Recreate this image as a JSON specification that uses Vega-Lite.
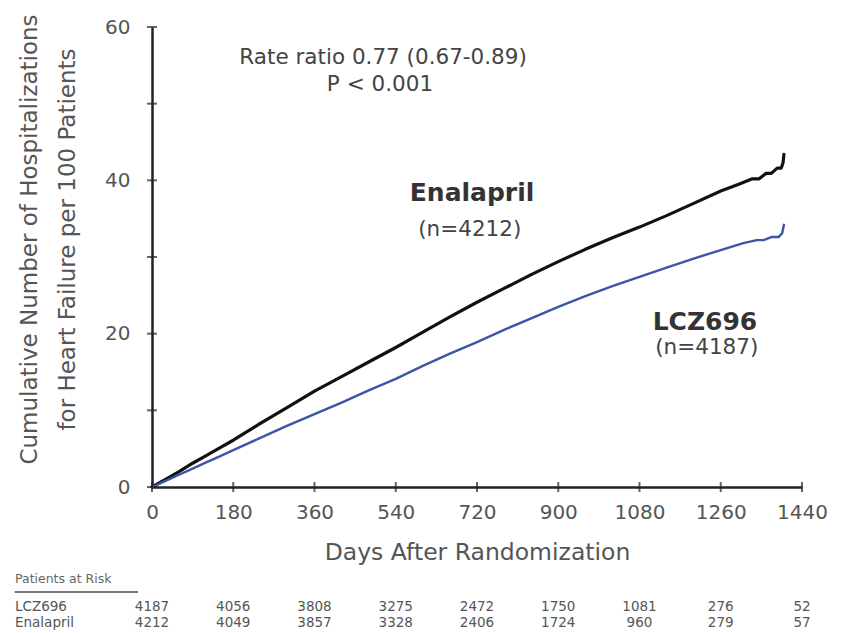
{
  "$schema": "https://vega.github.io/schema/vega-lite/v6.json",
  "width": 650,
  "height": 460,
  "autosize": {"type": "none"},
  "padding": {"left": 152, "top": 27, "right": 46, "bottom": 146},
  "background": "white",
  "config": {
    "view": {"stroke": null},
    "font": "DejaVu Sans",
    "text": {"font": "DejaVu Sans"}
  },
  "datasets": {
    "curves": [
      {"arm": "Enalapril", "day": 0, "rate": 0},
      {"arm": "Enalapril", "day": 30, "rate": 1.0},
      {"arm": "Enalapril", "day": 60, "rate": 2.0},
      {"arm": "Enalapril", "day": 90, "rate": 3.1},
      {"arm": "Enalapril", "day": 120, "rate": 4.1},
      {"arm": "Enalapril", "day": 150, "rate": 5.1},
      {"arm": "Enalapril", "day": 180, "rate": 6.1},
      {"arm": "Enalapril", "day": 240, "rate": 8.3},
      {"arm": "Enalapril", "day": 300, "rate": 10.4},
      {"arm": "Enalapril", "day": 360, "rate": 12.5},
      {"arm": "Enalapril", "day": 420, "rate": 14.4},
      {"arm": "Enalapril", "day": 480, "rate": 16.3},
      {"arm": "Enalapril", "day": 540, "rate": 18.2},
      {"arm": "Enalapril", "day": 600, "rate": 20.2},
      {"arm": "Enalapril", "day": 660, "rate": 22.2},
      {"arm": "Enalapril", "day": 720, "rate": 24.1},
      {"arm": "Enalapril", "day": 780, "rate": 25.9},
      {"arm": "Enalapril", "day": 840, "rate": 27.7},
      {"arm": "Enalapril", "day": 900, "rate": 29.4},
      {"arm": "Enalapril", "day": 960, "rate": 31.0},
      {"arm": "Enalapril", "day": 1020, "rate": 32.5},
      {"arm": "Enalapril", "day": 1080, "rate": 33.9},
      {"arm": "Enalapril", "day": 1140, "rate": 35.4},
      {"arm": "Enalapril", "day": 1200, "rate": 37.0},
      {"arm": "Enalapril", "day": 1260, "rate": 38.6},
      {"arm": "Enalapril", "day": 1300, "rate": 39.5},
      {"arm": "Enalapril", "day": 1330, "rate": 40.2},
      {"arm": "Enalapril", "day": 1345, "rate": 40.2},
      {"arm": "Enalapril", "day": 1360, "rate": 40.9},
      {"arm": "Enalapril", "day": 1372, "rate": 40.9},
      {"arm": "Enalapril", "day": 1385, "rate": 41.6},
      {"arm": "Enalapril", "day": 1394, "rate": 41.6},
      {"arm": "Enalapril", "day": 1398, "rate": 42.3},
      {"arm": "Enalapril", "day": 1400, "rate": 43.4},
      {"arm": "LCZ696", "day": 0, "rate": 0},
      {"arm": "LCZ696", "day": 30, "rate": 0.8},
      {"arm": "LCZ696", "day": 60, "rate": 1.6},
      {"arm": "LCZ696", "day": 90, "rate": 2.4},
      {"arm": "LCZ696", "day": 120, "rate": 3.2},
      {"arm": "LCZ696", "day": 150, "rate": 4.0},
      {"arm": "LCZ696", "day": 180, "rate": 4.8},
      {"arm": "LCZ696", "day": 240, "rate": 6.4},
      {"arm": "LCZ696", "day": 300, "rate": 8.0},
      {"arm": "LCZ696", "day": 360, "rate": 9.5},
      {"arm": "LCZ696", "day": 420, "rate": 11.0},
      {"arm": "LCZ696", "day": 480, "rate": 12.6},
      {"arm": "LCZ696", "day": 540, "rate": 14.1},
      {"arm": "LCZ696", "day": 600, "rate": 15.8},
      {"arm": "LCZ696", "day": 660, "rate": 17.4},
      {"arm": "LCZ696", "day": 720, "rate": 18.9},
      {"arm": "LCZ696", "day": 780, "rate": 20.5},
      {"arm": "LCZ696", "day": 840, "rate": 22.0},
      {"arm": "LCZ696", "day": 900, "rate": 23.5},
      {"arm": "LCZ696", "day": 960, "rate": 24.9},
      {"arm": "LCZ696", "day": 1020, "rate": 26.2},
      {"arm": "LCZ696", "day": 1080, "rate": 27.4},
      {"arm": "LCZ696", "day": 1140, "rate": 28.6},
      {"arm": "LCZ696", "day": 1200, "rate": 29.8},
      {"arm": "LCZ696", "day": 1260, "rate": 30.9},
      {"arm": "LCZ696", "day": 1310, "rate": 31.8},
      {"arm": "LCZ696", "day": 1340, "rate": 32.2},
      {"arm": "LCZ696", "day": 1355, "rate": 32.2},
      {"arm": "LCZ696", "day": 1372, "rate": 32.6},
      {"arm": "LCZ696", "day": 1388, "rate": 32.6},
      {"arm": "LCZ696", "day": 1396, "rate": 33.1},
      {"arm": "LCZ696", "day": 1400, "rate": 34.2}
    ],
    "notes": [
      {"label": "Rate ratio 0.77 (0.67-0.89)", "day": 512, "rate": 56.0},
      {"label": "P < 0.001", "day": 505, "rate": 52.4},
      {"label": "(n=4212)", "day": 704, "rate": 33.5},
      {"label": "(n=4187)", "day": 1229, "rate": 18.1}
    ],
    "armLabels": [
      {"label": "Enalapril", "day": 709, "rate": 38.3},
      {"label": "LCZ696", "day": 1225, "rate": 21.5}
    ],
    "yTicks": [
      {"v": 0}, {"v": 10}, {"v": 20}, {"v": 30}, {"v": 40}, {"v": 50}, {"v": 60}
    ],
    "xTicks": [
      {"v": 0}, {"v": 180}, {"v": 360}, {"v": 540}, {"v": 720},
      {"v": 900}, {"v": 1080}, {"v": 1260}, {"v": 1440}
    ],
    "atRisk": [
      {"arm": "LCZ696", "day": 0, "n": 4187},
      {"arm": "LCZ696", "day": 180, "n": 4056},
      {"arm": "LCZ696", "day": 360, "n": 3808},
      {"arm": "LCZ696", "day": 540, "n": 3275},
      {"arm": "LCZ696", "day": 720, "n": 2472},
      {"arm": "LCZ696", "day": 900, "n": 1750},
      {"arm": "LCZ696", "day": 1080, "n": 1081},
      {"arm": "LCZ696", "day": 1260, "n": 276},
      {"arm": "LCZ696", "day": 1440, "n": 52},
      {"arm": "Enalapril", "day": 0, "n": 4212},
      {"arm": "Enalapril", "day": 180, "n": 4049},
      {"arm": "Enalapril", "day": 360, "n": 3857},
      {"arm": "Enalapril", "day": 540, "n": 3328},
      {"arm": "Enalapril", "day": 720, "n": 2406},
      {"arm": "Enalapril", "day": 900, "n": 1724},
      {"arm": "Enalapril", "day": 1080, "n": 960},
      {"arm": "Enalapril", "day": 1260, "n": 279},
      {"arm": "Enalapril", "day": 1440, "n": 57}
    ],
    "arms": [{"arm": "LCZ696"}, {"arm": "Enalapril"}]
  },
  "resolve": {"scale": {"y": "independent"}},
  "layer": [
    {
      "layer": [
        {
          "data": {"name": "curves"},
          "mark": {"type": "line", "strokeJoin": "round", "strokeCap": "round"},
          "encoding": {
            "x": {
              "field": "day", "type": "quantitative",
              "scale": {"domain": [0, 1440], "nice": false, "zero": true},
              "axis": {
                "values": [0, 180, 360, 540, 720, 900, 1080, 1260, 1440],
                "format": "d",
                "title": "Days After Randomization",
                "ticks": false, "grid": false,
                "domainColor": "#222", "domainWidth": 2.5,
                "labelFontSize": 20, "labelColor": "#555", "labelPadding": 15,
                "labelFlush": false, "labelOverlap": false,
                "titleFontSize": 23.5, "titleFontWeight": "normal", "titleColor": "#555",
                "titlePadding": 18
              }
            },
            "y": {
              "field": "rate", "type": "quantitative",
              "scale": {"domain": [0, 60], "nice": false},
              "axis": {
                "values": [0, 20, 40, 60],
                "title": ["Cumulative Number of Hospitalizations", "for Heart Failure per 100 Patients"],
                "ticks": false, "grid": false,
                "domainColor": "#222", "domainWidth": 2.5,
                "labelFontSize": 20, "labelColor": "#555", "labelPadding": 22,
                "labelFlush": false, "labelOverlap": false,
                "titleFontSize": 23, "titleFontWeight": "normal", "titleColor": "#555",
                "titleLineHeight": 38, "titlePadding": 25, "titleY": 212
              }
            },
            "color": {
              "field": "arm", "type": "nominal",
              "scale": {"domain": ["Enalapril", "LCZ696"], "range": ["#111111", "#3b56a6"]},
              "legend": null
            },
            "strokeWidth": {
              "field": "arm", "type": "nominal",
              "scale": {"domain": ["Enalapril", "LCZ696"], "range": [3.2, 2.4]},
              "legend": null
            }
          }
        },
        {
          "data": {"name": "yTicks"},
          "mark": {"type": "tick", "orient": "horizontal", "size": 10, "thickness": 2, "color": "#222"},
          "encoding": {
            "x": {"datum": 0, "type": "quantitative"},
            "y": {"field": "v", "type": "quantitative"}
          }
        },
        {
          "data": {"name": "xTicks"},
          "mark": {"type": "tick", "orient": "vertical", "size": 10, "thickness": 2, "color": "#222"},
          "encoding": {
            "x": {"field": "v", "type": "quantitative"},
            "y": {"datum": 0, "type": "quantitative"}
          }
        },
        {
          "data": {"name": "notes"},
          "mark": {"type": "text", "fontSize": 21.5, "color": "#444", "align": "center", "baseline": "middle"},
          "encoding": {
            "x": {"field": "day", "type": "quantitative"},
            "y": {"field": "rate", "type": "quantitative"},
            "text": {"field": "label"}
          }
        },
        {
          "data": {"name": "armLabels"},
          "mark": {"type": "text", "fontSize": 25, "fontWeight": "bold", "color": "#333", "align": "center", "baseline": "middle"},
          "encoding": {
            "x": {"field": "day", "type": "quantitative"},
            "y": {"field": "rate", "type": "quantitative"},
            "text": {"field": "label"}
          }
        }
      ]
    },
    {
      "layer": [
        {
          "data": {"name": "atRisk"},
          "mark": {"type": "text", "fontSize": 13.5, "color": "#555", "align": "center", "baseline": "middle"},
          "encoding": {
            "x": {"field": "day", "type": "quantitative"},
            "y": {
              "field": "arm", "type": "nominal",
              "scale": {"type": "point", "domain": ["LCZ696", "Enalapril"], "range": [580, 596], "padding": 0},
              "axis": null
            },
            "text": {"field": "n", "type": "quantitative"}
          }
        },
        {
          "data": {"name": "arms"},
          "mark": {"type": "text", "fontSize": 13.5, "color": "#555", "align": "left", "baseline": "middle", "dx": -137},
          "encoding": {
            "x": {"datum": 0, "type": "quantitative"},
            "y": {"field": "arm", "type": "nominal"},
            "text": {"field": "arm"}
          }
        },
        {
          "data": {"values": [{"label": "Patients at Risk"}]},
          "mark": {"type": "text", "fontSize": 12.5, "color": "#666", "align": "left", "baseline": "middle", "dx": -137, "dy": -28},
          "encoding": {
            "x": {"datum": 0, "type": "quantitative"},
            "y": {"datum": "LCZ696", "type": "nominal"},
            "text": {"field": "label"}
          }
        },
        {
          "data": {"values": [{}]},
          "mark": {"type": "rule", "color": "#777", "strokeWidth": 2, "yOffset": -15},
          "encoding": {
            "x": {"datum": -304, "type": "quantitative"},
            "x2": {"datum": -31},
            "y": {"datum": "LCZ696", "type": "nominal"}
          }
        }
      ]
    }
  ]
}
